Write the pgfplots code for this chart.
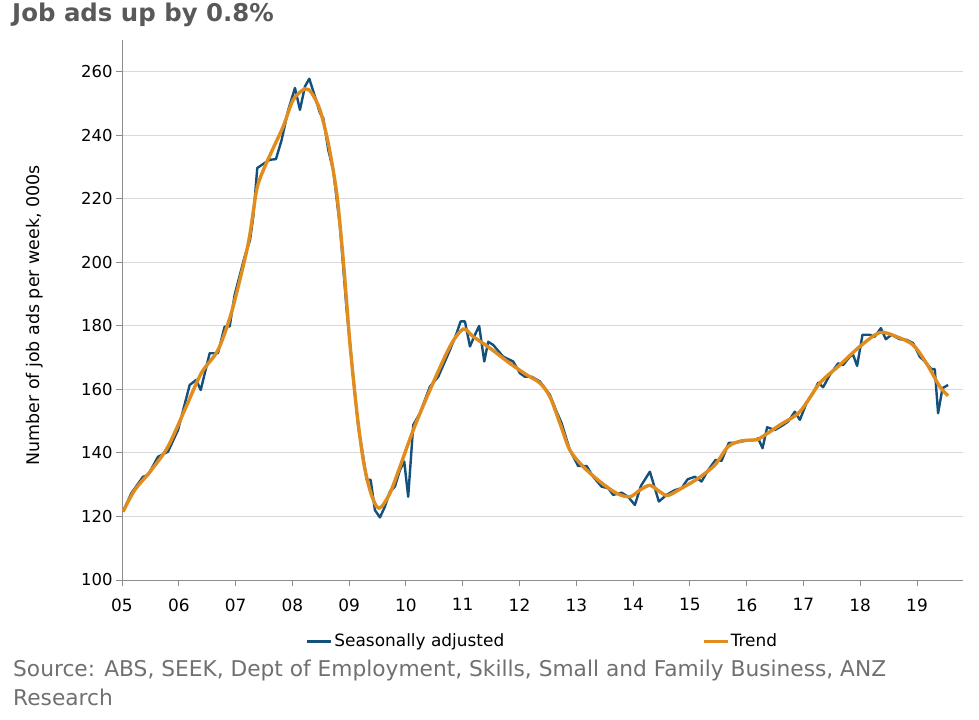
\documentclass[border=0pt]{standalone}
\usepackage{fontspec}
\setmainfont{DejaVu Sans}
\usepackage{pgfplots}
\pgfplotsset{compat=1.18}

\definecolor{sablue}{HTML}{14507C}
\definecolor{trendor}{HTML}{E08C1E}
\definecolor{gridc}{HTML}{D9D9D9}
\definecolor{axc}{HTML}{8C8C8C}
\definecolor{titlec}{HTML}{595959}
\definecolor{srcc}{HTML}{707070}

\begin{document}
\begin{tikzpicture}[x=1bp,y=1bp]
\begin{axis}[
    at={(122bp,-580bp)}, anchor=south west,
    scale only axis, width=841bp, height=540bp,
    xmin=5, xmax=19.81, ymin=100, ymax=270,
    axis x line*=bottom, axis y line*=left,
    axis line style={axc, line width=1bp},
    xtick={5,...,19},
    xticklabels={05,06,07,08,09,10,11,12,13,14,15,16,17,18,19},
    ytick={100,120,...,260},
    ymajorgrids, grid style={gridc, line width=0.9bp},
    tick style={axc, line width=1bp},
    tick align=outside, major tick length=6bp,
    tick label style={font=\fontsize{16.5}{19}\selectfont},
    xticklabel style={yshift=-9bp, font=\fontsize{17}{19}\selectfont},
    /pgf/number format/assume math mode=true,
    ylabel={Number of job ads per week, 000s},
    every axis y label/.style={at={(axis description cs:-0.1034,0.49)}, rotate=90, anchor=center,
        font=\fontsize{17.5}{20}\selectfont},
    legend columns=2,
    legend style={at={(axis description cs:0.5,-0.1135)}, anchor=center, draw=none, fill=none,
        font=\fontsize{17}{20}\selectfont, inner sep=0pt,
        /tikz/every even column/.append style={column sep=196bp}},
    legend image code/.code={\draw[#1, line width=2.5bp] (0bp,0bp) -- (24bp,0bp);},
]

% seasonally adjusted
\addplot[sablue, line width=2.4bp, line join=round] coordinates {
(5.018,121.5) (5.164,127.3) (5.370,132.5) (5.458,133.0) (5.634,138.8) (5.810,140.4)
(5.986,147.2) (6.192,161.4) (6.308,163.0) (6.386,159.8) (6.544,171.4) (6.690,171.4)
(6.808,179.8) (6.896,179.8) (6.984,189.8) (7.160,201.8) (7.254,207.0) (7.312,214.4)
(7.382,229.7) (7.488,231.0) (7.606,232.3) (7.711,232.5) (7.812,238.6) (7.928,248.0)
(8.046,254.9) (8.134,248.0) (8.222,255.4) (8.298,257.8) (8.398,252.2) (8.486,247.0)
(8.544,245.4) (8.632,235.4) (8.720,229.0) (8.838,211.3) (8.956,185.0) (9.072,164.0)
(9.160,148.3) (9.248,138.8) (9.308,131.5) (9.379,131.5) (9.454,122.0) (9.542,119.7)
(9.630,123.1) (9.718,127.8) (9.806,129.4) (9.894,134.6) (9.970,137.3) (10.040,126.2)
(10.129,148.8) (10.246,152.5) (10.423,160.9) (10.569,164.0) (10.775,172.4) (10.893,177.7)
(10.963,181.4) (11.039,181.4) (11.127,173.5) (11.215,177.2) (11.290,180.0) (11.379,168.8)
(11.449,175.0) (11.537,174.0) (11.713,170.3) (11.889,168.8) (12.007,165.1) (12.095,164.0)
(12.213,164.0) (12.359,162.5) (12.535,158.3) (12.653,153.0) (12.741,149.4) (12.887,140.9)
(13.033,135.9) (13.181,135.9) (13.298,132.5) (13.445,129.4) (13.562,128.9) (13.650,126.8)
(13.798,127.5) (13.914,126.2) (14.032,123.6) (14.137,129.6) (14.296,134.1) (14.454,124.7)
(14.590,126.8) (14.736,128.3) (14.854,128.9) (14.960,131.7) (15.088,132.5) (15.206,131.0)
(15.322,134.6) (15.452,137.8) (15.558,137.5) (15.687,143.2) (15.792,143.2) (15.968,143.8)
(16.144,144.1) (16.202,144.6) (16.280,141.5) (16.361,148.1) (16.496,147.2) (16.643,148.8)
(16.731,149.9) (16.849,153.0) (16.937,150.4) (17.054,155.7) (17.171,158.8) (17.259,162.1)
(17.347,160.7) (17.465,164.6) (17.611,168.2) (17.699,167.7) (17.817,170.3) (17.875,170.9)
(17.945,167.4) (18.040,177.2) (18.169,177.2) (18.257,176.6) (18.363,179.3) (18.451,175.8)
(18.551,177.2) (18.697,175.8) (18.818,175.6) (18.931,174.6) (19.049,170.3) (19.137,168.8)
(19.255,166.4) (19.313,166.4) (19.371,152.5) (19.449,160.4) (19.548,161.4)
};
\addlegendentry{Seasonally adjusted}

% trend
\addplot[trendor, line width=3.4bp, smooth, tension=0.5] coordinates {
(5.018,121.5) (5.224,128.3) (5.516,134.6) (5.810,142.0) (6.104,153.5) (6.396,165.1)
(6.690,172.4) (6.924,184.0) (7.160,200.8) (7.254,209.0) (7.371,222.8) (7.488,229.0)
(7.664,236.0) (7.840,242.8) (8.016,251.2) (8.222,254.6) (8.340,253.3) (8.486,248.0)
(8.632,237.5) (8.780,221.8) (8.896,200.8) (9.014,174.5) (9.132,153.5) (9.248,137.8)
(9.366,128.3) (9.484,123.1) (9.572,123.1) (9.718,127.3) (9.864,134.1) (10.129,147.2)
(10.423,159.8) (10.775,173.5) (11.009,179.0) (11.185,176.6) (11.479,173.0) (11.831,168.2)
(12.125,164.6) (12.359,162.0) (12.535,157.7) (12.711,149.4) (12.887,140.9) (13.121,135.7)
(13.415,131.0) (13.709,127.3) (13.944,126.2) (14.120,128.3) (14.296,129.8) (14.472,127.8)
(14.613,126.6) (14.854,128.9) (15.146,132.0) (15.440,136.2) (15.674,142.0) (15.910,143.8)
(16.144,144.1) (16.232,144.6) (16.585,148.8) (16.937,153.0) (17.289,162.0) (17.641,167.7)
(17.993,173.5) (18.345,177.9) (18.639,176.6) (18.931,174.0) (19.167,168.2) (19.401,160.9)
(19.548,158.0)
};
\addlegendentry{Trend}
\end{axis}

\node[anchor=base west, inner sep=0pt, text=titlec, font=\bfseries\fontsize{24.5}{28}\selectfont]
  at (12bp,-21.7bp) {Job ads up by 0.8\%};
\node[anchor=base west, inner sep=0pt, text=srcc, font=\fontsize{21.8}{25}\selectfont]
  at (13bp,-676bp) {Source: ABS, SEEK, Dept of Employment, Skills, Small and Family Business, ANZ};
\node[anchor=base west, inner sep=0pt, text=srcc, font=\fontsize{21.8}{25}\selectfont]
  at (13bp,-705bp) {Research};

\pgfresetboundingbox
\path[use as bounding box] (0bp,0bp) rectangle (979bp,-720bp);
\end{tikzpicture}
\end{document}
